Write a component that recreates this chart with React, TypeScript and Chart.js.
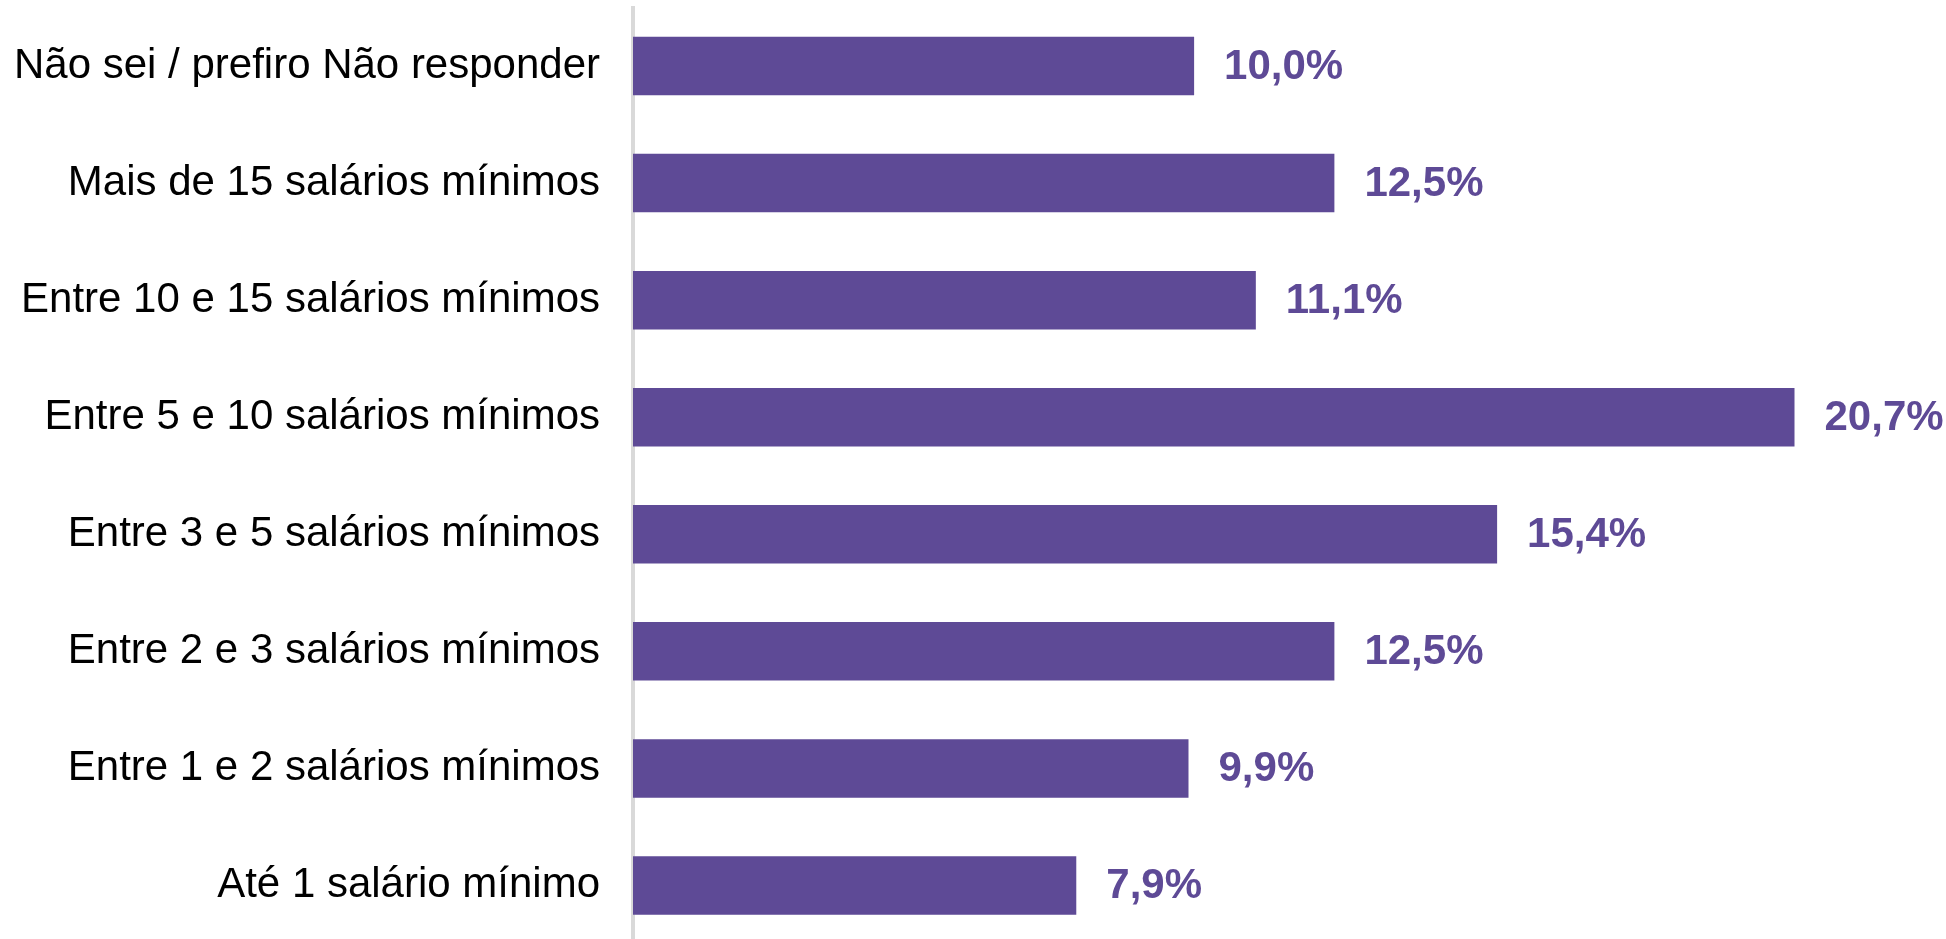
import React, { useEffect, useRef } from "react";
import { Chart, registerables } from "chart.js";

Chart.register(...registerables);

const categories = [
  "Não sei / prefiro Não responder",
  "Mais de 15 salários mínimos",
  "Entre 10 e 15 salários mínimos",
  "Entre 5 e 10 salários mínimos",
  "Entre 3 e 5 salários mínimos",
  "Entre 2 e 3 salários mínimos",
  "Entre 1 e 2 salários mínimos",
  "Até 1 salário mínimo",
];

const values = [10.0, 12.5, 11.1, 20.7, 15.4, 12.5, 9.9, 7.9];

const BAR_COLOR = "#5E4A96";
const FONT = '"Liberation Sans", Arial, sans-serif';

const valueLabels = {
  id: "valueLabels",
  afterDatasetsDraw(chart: any) {
    const ctx = chart.ctx;
    const meta = chart.getDatasetMeta(0);
    ctx.save();
    ctx.font = `bold 42px ${FONT}`;
    ctx.fillStyle = BAR_COLOR;
    ctx.textAlign = "left";
    ctx.textBaseline = "middle";
    meta.data.forEach((el: any, i: number) => {
      const txt = values[i].toFixed(1).replace(".", ",") + "%";
      ctx.fillText(txt, el.x + 30, el.y + 1);
    });
    ctx.restore();
  },
};

export default function App() {
  const ref = useRef<HTMLCanvasElement | null>(null);

  useEffect(() => {
    if (!ref.current) return;
    const chart = new Chart(ref.current, {
      type: "bar",
      data: {
        labels: categories,
        datasets: [
          {
            data: values,
            backgroundColor: BAR_COLOR,
            borderWidth: 0,
            categoryPercentage: 1,
            barPercentage: 0.5,
          },
        ],
      },
      options: {
        indexAxis: "y",
        animation: false,
        responsive: false,
        maintainAspectRatio: false,
        layout: { padding: { top: 7.5, bottom: 0, left: 0, right: 0 } },
        plugins: {
          legend: { display: false },
          tooltip: { enabled: false },
        },
        scales: {
          x: {
            display: false,
            min: 0,
            max: 23.4,
          },
          y: {
            z: 1,
            grid: { display: false, drawTicks: false },
            border: { display: true, color: "#d9d9d9", width: 4 },
            ticks: {
              padding: 33,
              color: "#000000",
              font: { family: FONT, size: 42 },
            },
            afterFit(scale: any) {
              scale.width = 633;
              scale.paddingTop = 0;
              scale.paddingBottom = 0;
            },
          },
        },
      },
      plugins: [valueLabels],
    });
    return () => chart.destroy();
  }, []);

  return (
    <div
      style={{
        position: "fixed",
        left: 0,
        top: 0,
        width: 1946,
        height: 939,
        overflow: "hidden",
        background: "#ffffff",
      }}
    >
      <canvas ref={ref} width={1946} height={944} style={{ display: "block" }} />
    </div>
  );
}
